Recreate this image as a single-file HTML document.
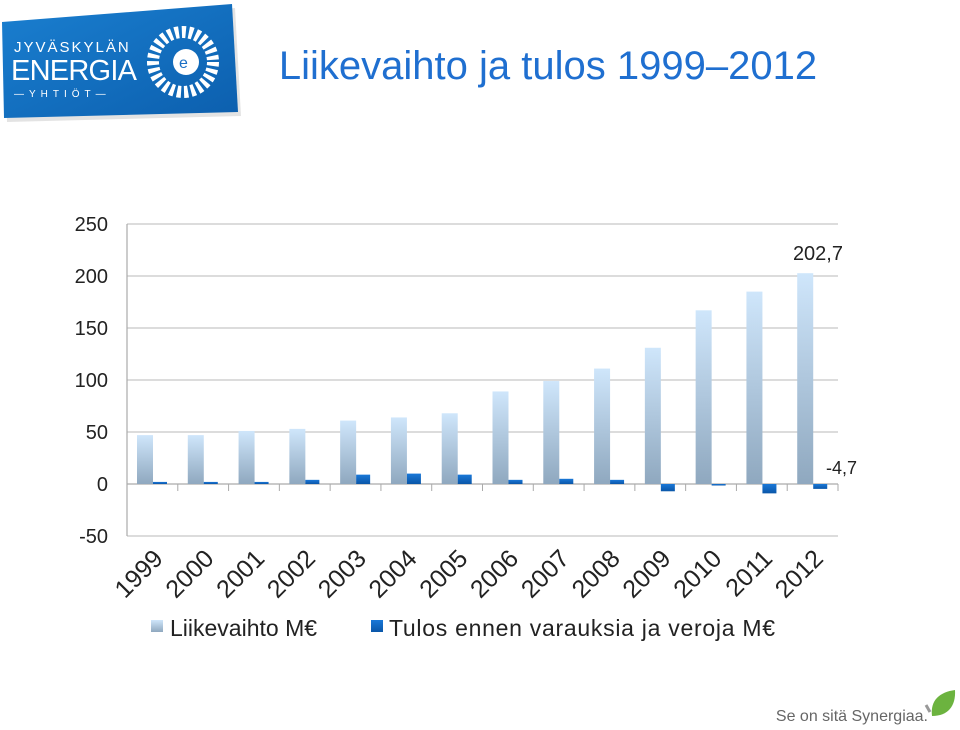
<!DOCTYPE html>
<html><head><meta charset="utf-8"><style>
body{margin:0;width:960px;height:725px;background:#fff;overflow:hidden;font-family:"Liberation Sans",sans-serif}
</style></head><body>
<svg width="960" height="725" viewBox="0 0 960 725" xmlns="http://www.w3.org/2000/svg" font-family="Liberation Sans, sans-serif">
<defs>
<linearGradient id="gl" x1="0" y1="0" x2="0" y2="1"><stop offset="0" stop-color="#cfe6fb"/><stop offset="1" stop-color="#8fa8bf"/></linearGradient>
<linearGradient id="gd" x1="0" y1="0" x2="0" y2="1"><stop offset="0" stop-color="#1a78d8"/><stop offset="1" stop-color="#0a56a8"/></linearGradient>
<linearGradient id="glogo" x1="0" y1="0" x2="1" y2="1"><stop offset="0" stop-color="#1a7fd0"/><stop offset="1" stop-color="#0c5fae"/></linearGradient>
</defs>
<g>
<polygon points="2,22 232,4 238,112 4,118" fill="#c8c8c8" opacity="0.5" transform="translate(3,4)"/>
<polygon points="2,22 232,4 238,112 4,118" fill="url(#glogo)"/>
<text x="14" y="52" fill="#fff" font-size="15" letter-spacing="2">JYVÄSKYLÄN</text>
<text x="11" y="80" fill="#fff" font-size="29" textLength="126">ENERGIA</text>
<text x="14" y="97" fill="#fff" font-size="10" letter-spacing="5">—YHTIÖT—</text>
<circle cx="183" cy="62" r="30" fill="none" stroke="#fff" stroke-width="12" stroke-dasharray="4 3"/>
<circle cx="186" cy="62" r="13" fill="#fff"/>
<text x="179" y="68" fill="#1a6fc4" font-size="16">e</text>
</g>
<text x="548" y="79" text-anchor="middle" font-size="40" fill="#1f6fd0">Liikevaihto ja tulos 1999–2012</text>
<g id="chart"></g>
<g>
<text x="928" y="721" text-anchor="end" font-size="16" fill="#666">Se on sitä Synergiaa.</text>
<path d="M932,716 C930,700 940,692 955,690 C956,706 948,716 932,716Z" fill="#6cb33f"/>
<path d="M930,712 L926,705" stroke="#999" stroke-width="3"/>
</g>
</svg>
<script>
const years=["1999","2000","2001","2002","2003","2004","2005","2006","2007","2008","2009","2010","2011","2012"];
const revenue=[47,47,51,53,61,64,68,89,99,111,131,167,185,202.7];
const profit=[2,2,2,4,9,10,9,4,5,4,-7,-1,-9,-4.7];
const yTicks=[250,200,150,100,50,0,-50];
const NS="http://www.w3.org/2000/svg";
const g=document.getElementById('chart');
const x0=127,x1=838,cw=(x1-x0)/years.length;
const y=v=>484-v*1.04;
function mk(t,a){const e=document.createElementNS(NS,t);for(const k in a)e.setAttribute(k,a[k]);g.appendChild(e);return e;}
yTicks.forEach(v=>{
 const l=mk('line',{x1:x0,x2:x1,y1:y(v),y2:y(v),stroke:v===0?'#aaa':'#c8c8c8','stroke-width':1.2});
 
 
 const t=mk('text',{x:108,y:y(v)+7,'text-anchor':'end','font-size':20,fill:'#222'});t.textContent=v;
 
 
});
const ax=mk('line',{x1:x0,x2:x0,y1:y(250),y2:y(-50),stroke:'#aaa','stroke-width':1.2});


years.forEach((yr,i)=>{
 const cx=x0+i*cw;
 const tk=mk('line',{x1:cx+cw,x2:cx+cw,y1:484,y2:491,stroke:'#aaa'});
 
 
 const r=revenue[i];
 const b=mk('rect',{x:cx+10,y:y(r),width:16,height:484-y(r),fill:'url(#gl)'});
 
 
 const p=profit[i];
 const b2=mk('rect',{x:cx+26,y:Math.min(y(p),484),width:14,height:Math.max(1.5,Math.abs(484-y(p))),fill:'url(#gd)'});
 
 
 const t=mk('text',{x:0,y:0,'text-anchor':'end','font-size':25,fill:'#222',transform:`translate(${cx+cw/2+12},${560}) rotate(-45)`});t.textContent=yr;
 
 
});
const last=years.length-1;
const l1=mk('text',{x:843,y:y(revenue[last])-13,'text-anchor':'end','font-size':20,fill:'#222'});l1.textContent=String(revenue[last]).replace('.',',');


const l2=mk('text',{x:857,y:474,'text-anchor':'end','font-size':18,fill:'#222'});l2.textContent=String(profit[last]).replace('.',',');


const s1=mk('rect',{x:151,y:620,width:12,height:12,fill:'url(#gl)'});


const t1=mk('text',{x:170,y:636,'font-size':23,fill:'#222'});t1.textContent='Liikevaihto M€';


const s2=mk('rect',{x:371,y:620,width:12,height:12,fill:'url(#gd)'});


const t2=mk('text',{x:389,y:636,'font-size':23,fill:'#222',textLength:386});t2.textContent='Tulos ennen varauksia ja veroja M€';


</script>
</body></html>
